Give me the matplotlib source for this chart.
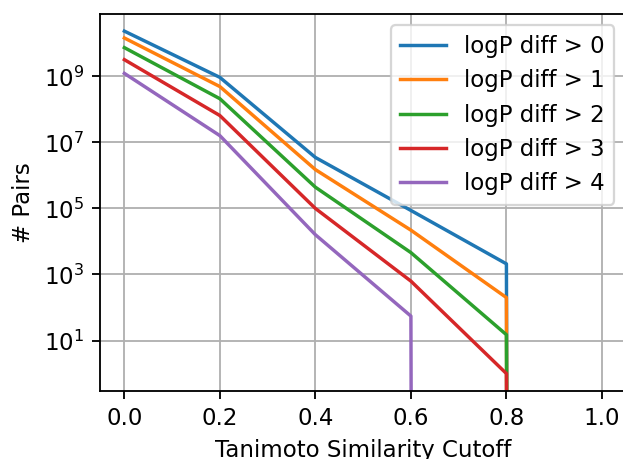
import numpy as np
import matplotlib
matplotlib.use("Agg")
import matplotlib.pyplot as plt


# Tanimoto cutoffs and pair counts for each logP difference threshold
cutoffs = [0.0, 0.2, 0.4, 0.6, 0.8, 1.0]

pairs_gt0 = [2.34e10, 9.3e8, 3.5e6, 8.7e4, 2100, 0]
pairs_gt1 = [1.45e10, 4.9e8, 1.5e6, 2.2e4, 200, 0]
pairs_gt2 = [7.4e9, 2.1e8, 4.4e5, 4600, 15, 0]
pairs_gt3 = [3.2e9, 6.5e7, 1.0e5, 630, 1, 0]
pairs_gt4 = [1.23e9, 1.6e7, 1.6e4, 55, 0, 0]

labels = ["logP diff > 0", "logP diff > 1", "logP diff > 2",
          "logP diff > 3", "logP diff > 4"]

DPI = 165

fig = plt.figure(figsize=(623 / DPI, 459 / DPI), dpi=DPI)
ax = fig.add_axes([0.1613, 0.1488, 0.8432, 0.8207])

for counts, label in zip([pairs_gt0, pairs_gt1, pairs_gt2, pairs_gt3, pairs_gt4], labels):
    ax.plot(cutoffs, counts, label=label, linewidth=1.5)

ax.set_yscale("log")
ax.set_xlabel("Tanimoto Similarity Cutoff")
ax.set_ylabel("# Pairs")
ax.grid(True)
ax.legend(loc="upper right")

fig.savefig("out.png", dpi=DPI)
